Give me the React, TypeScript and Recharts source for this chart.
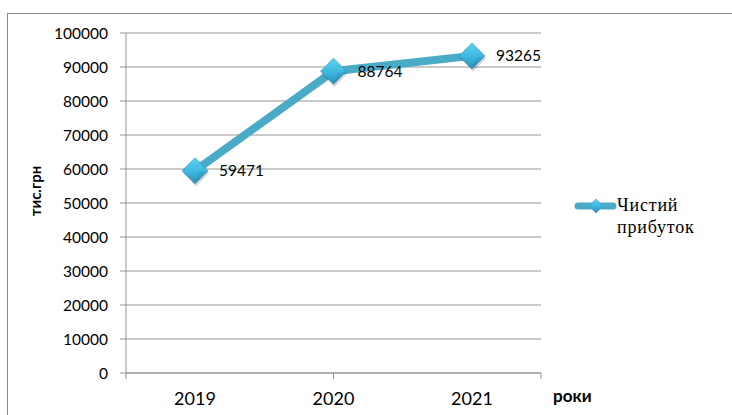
import { LineChart, Line, XAxis, YAxis, CartesianGrid, LabelList, Label } from 'recharts';

const YEARS = ['2019', '2020', '2021'];
const NET_PROFIT = [59471, 88764, 93265];
const Y_TICKS = [0, 10000, 20000, 30000, 40000, 50000, 60000, 70000, 80000, 90000, 100000];
const EDGE_TICKS = [0, 1, 2, 3];
const SERIES_NAME = 'Чистий прибуток';

const LINE_COLOR = '#4aabc6';
const GRID_COLOR = '#959595';
const FONT = 'Lato, "Open Sans", sans-serif';

const data = YEARS.map((year, i) => ({ year, profit: NET_PROFIT[i] }));

const GradientStops = () => (
  <>
    <stop offset="0%" stopColor="#5ed2f1" />
    <stop offset="50%" stopColor="#40bae1" />
    <stop offset="100%" stopColor="#2a8db4" />
  </>
);

// bevelled diamond marker, Excel style
const DiamondDot = (props: any) => {
  const { cx, cy, index } = props;
  if (cx == null || cy == null) return null;
  const r = 13;
  const pts = (ox: number, oy: number) =>
    `${cx + ox},${cy + oy - r} ${cx + ox + r},${cy + oy} ${cx + ox},${cy + oy + r} ${cx + ox - r},${cy + oy}`;
  return (
    <g key={index}>
      <polygon points={pts(1, 2.5)} fill="#000" opacity={0.16} />
      <polygon points={pts(0, 0)} fill="url(#diamondFill)" stroke="#3393b8" strokeWidth={0.6} />
      <polygon
        points={`${cx + r},${cy} ${cx},${cy + r} ${cx + 4},${cy + 2}`}
        fill="#1f7ea3"
        opacity={0.25}
      />
    </g>
  );
};

const YAxisTitle = (props: any) => {
  const { viewBox } = props;
  const x = viewBox.x + 35;
  const y = viewBox.y + viewBox.height / 2 - 12;
  return (
    <text
      x={x}
      y={y}
      transform={`rotate(-90 ${x} ${y})`}
      textAnchor="middle"
      dominantBaseline="central"
      fontFamily={FONT}
      fontWeight={700}
      fontSize={15}
      fill="#000"
    >
      тис.грн
    </text>
  );
};

const XAxisTitle = (props: any) => {
  const { viewBox } = props;
  return (
    <text
      x={viewBox.x + viewBox.width + 12}
      y={viewBox.y + 23}
      fontFamily={FONT}
      fontWeight={700}
      fontSize={17}
      fill="#000"
    >
      роки
    </text>
  );
};

const LegendBox = () => (
  <div style={{ position: 'absolute', left: 574, top: 197, display: 'flex', alignItems: 'flex-start' }}>
    <svg width={43} height={20}>
      <defs>
        <linearGradient id="legendDiamond" x1="0" y1="0" x2="0" y2="1">
          <GradientStops />
        </linearGradient>
      </defs>
      <line x1={4} y1={9} x2={39} y2={9} stroke={LINE_COLOR} strokeWidth={7} strokeLinecap="round" />
      <polygon points="22,2 29,9 22,16 15,9" fill="url(#legendDiamond)" stroke="#3393b8" strokeWidth={0.5} />
    </svg>
    <div
      style={{
        fontFamily: '"Liberation Serif", "Times New Roman", serif',
        fontSize: 18,
        letterSpacing: 0.8,
        lineHeight: '22px',
        color: '#000',
        width: 96,
        marginTop: -3,
      }}
    >
      {SERIES_NAME}
    </div>
  </div>
);

export default function App() {
  return (
    <div
      style={{
        position: 'fixed',
        left: 0,
        top: 0,
        width: 732,
        height: 415,
        background: '#fff',
        overflow: 'hidden',
      }}
    >
      <div
        style={{
          position: 'absolute',
          left: 7,
          top: 13,
          width: 760,
          height: 440,
          borderLeft: '1px solid #8a8a8a',
          borderTop: '1px solid #8a8a8a',
        }}
      />
      <div style={{ position: 'absolute', left: 0, top: 0 }}>
        <LineChart width={732} height={415} data={data} margin={{ top: 33, right: 191, bottom: 0, left: 0 }}>
          <defs>
            <linearGradient id="diamondFill" x1="0" y1="0" x2="0" y2="1">
              <GradientStops />
            </linearGradient>
          </defs>
          <CartesianGrid vertical={false} stroke={GRID_COLOR} strokeWidth={1} />
          <XAxis
            xAxisId="a"
            type="number"
            domain={[0, 3]}
            ticks={EDGE_TICKS}
            tickFormatter={() => ''}
            tickSize={6}
            height={6}
            axisLine={{ stroke: GRID_COLOR }}
            tickLine={{ stroke: GRID_COLOR }}
          />
          <XAxis
            xAxisId="b"
            dataKey="year"
            height={36}
            padding={{ left: 69, right: 69 }}
            axisLine={false}
            tickLine={false}
            tickSize={0}
            tickMargin={13}
            tick={{ fill: '#000', fontFamily: FONT, fontSize: 18 }}
          >
            <Label content={<XAxisTitle />} />
          </XAxis>
          <YAxis
            domain={[0, 100000]}
            ticks={Y_TICKS}
            width={126}
            tickSize={6}
            tickMargin={12}
            axisLine={{ stroke: GRID_COLOR }}
            tickLine={{ stroke: GRID_COLOR }}
            tick={{ fill: '#000', fontFamily: FONT, fontSize: 15.5 }}
          >
            <Label content={<YAxisTitle />} />
          </YAxis>
          <Line
            xAxisId="b"
            type="linear"
            dataKey="profit"
            name={SERIES_NAME}
            stroke={LINE_COLOR}
            strokeWidth={8}
            dot={<DiamondDot />}
            activeDot={false}
            isAnimationActive={false}
          >
            <LabelList
              dataKey="profit"
              position="right"
              offset={24}
              fill="#000"
              fontFamily={FONT}
              fontSize={15.5}
            />
          </Line>
        </LineChart>
      </div>
      <LegendBox />
    </div>
  );
}
